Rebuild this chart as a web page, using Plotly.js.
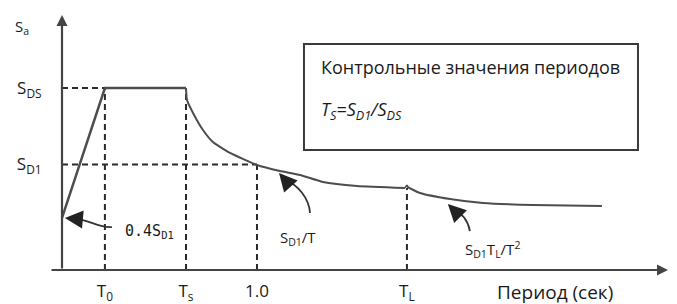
<!DOCTYPE html>
<html>
<head>
<meta charset="utf-8">
<script src="https://cdn.plot.ly/plotly-3.0.1.min.js"></script>
<style>
  html, body { margin: 0; padding: 0; background: #fff; }
  #chart { width: 677px; height: 304px; }
</style>
</head>
<body>
<div id="chart"></div>
<script>
// ---- Data (period T in s, spectral acceleration in units of S_DS) ----
const T0 = 0.22, Ts = 0.636, T1 = 1.0, TL = 1.769;
const SDS = 1.0, SD1 = 0.58, STL = 0.451;

const rampT = [0, T0, Ts];
const rampS = [0.286, SDS, SDS];

const curve1T = [0.636, 0.641, 0.672, 0.723, 0.774, 0.862, 1.0, 1.118, 1.221, 1.338, 1.513, 1.759];
const curve1S = [1.0, 0.934, 0.863, 0.769, 0.703, 0.643, 0.577, 0.544, 0.522, 0.484, 0.462, 0.451];

const cuspT = [1.759, 1.769];
const cuspS = [0.451, 0.467];

const curve2T = [1.769, 1.774, 1.836, 1.990, 2.159, 2.415, 2.769];
const curve2S = [0.467, 0.456, 0.423, 0.390, 0.368, 0.357, 0.352];

const xTickVals = [T0, Ts, T1, TL];
const xTickText = ['T<sub>0</sub>', 'T<sub>s</sub>', '1.0', 'T<sub>L</sub>'];
const yTickVals = [SD1, SDS];
const yTickText = ['S<sub>D1</sub>', 'S<sub>DS</sub>'];

// curved pointer arrows: [tail, ctrl1, ctrl2, base, tip]
const arrow1T = [0.256, 0.185, 0.144, 0.077, 0.015];
const arrow1S = [0.236, 0.231, 0.275, 0.280, 0.286];
const arrow2T = [1.272, 1.267, 1.210, 1.144, 1.113];
const arrow2S = [0.313, 0.396, 0.467, 0.495, 0.533];
const arrow3T = [2.092, 2.082, 2.051, 2.005, 1.979];
const arrow3S = [0.214, 0.275, 0.313, 0.335, 0.363];

const XMAX = 3.108, YMAX = 1.401, XMIN_AXIS = -0.0615;

// ---- Styles ----
const curveColor = '#4d4d4d';
const dashColor = '#2a2a2a';
const axisColor = '#444';
const textColor = '#1a1a1a';
const fontMain = '"Open Sans", Lato, sans-serif';

const traces = [
  {x: rampT, y: rampS, mode: 'lines', line: {color: curveColor, width: 2.5}, hoverinfo: 'skip'},
  {x: curve1T, y: curve1S, mode: 'lines', line: {color: curveColor, width: 2, shape: 'spline', smoothing: 0.5}, hoverinfo: 'skip'},
  {x: cuspT, y: cuspS, mode: 'lines', line: {color: curveColor, width: 1.5}, hoverinfo: 'skip'},
  {x: curve2T, y: curve2S, mode: 'lines', line: {color: curveColor, width: 2, shape: 'spline', smoothing: 0.5}, hoverinfo: 'skip'}
];

function dashLine(x0, y0, x1, y1) {
  return {type: 'line', xref: 'x', yref: 'y', x0, y0, x1, y1,
          line: {color: dashColor, width: 2, dash: '6px,4px'}, layer: 'below'};
}
function curvePath(tA, sA) {
  return {type: 'path', xref: 'x', yref: 'y',
          path: `M ${tA[0]},${sA[0]} C ${tA[1]},${sA[1]} ${tA[2]},${sA[2]} ${tA[3]},${sA[3]}`,
          line: {color: '#333', width: 1.8}};
}
function arrowHead(tA, sA) {
  return {x: tA[4], y: sA[4], ax: tA[3], ay: sA[3], axref: 'x', ayref: 'y', xref: 'x', yref: 'y',
          text: '', showarrow: true, arrowhead: 2, arrowsize: 2, arrowwidth: 1.8, arrowcolor: '#222', standoff: 0, startstandoff: 0};
}

const shapes = [
  dashLine(0, SDS, T0, SDS),
  dashLine(T0, 0, T0, SDS),
  dashLine(Ts, 0, Ts, SDS),
  dashLine(0, SD1, T1, SD1),
  dashLine(T1, 0, T1, SD1),
  dashLine(TL, 0, TL, STL),
  curvePath(arrow1T, arrow1S),
  curvePath(arrow2T, arrow2S),
  curvePath(arrow3T, arrow3S),
  {type: 'rect', xref: 'x', yref: 'y', x0: 1.241, x1: 2.954, y0: 0.659, y1: 1.242,
   line: {color: '#3a3a3a', width: 2}, fillcolor: 'rgba(0,0,0,0)'}
];

const annotations = [
  // axes with arrows
  {x: XMAX, y: 0, ax: XMIN_AXIS, ay: 0, axref: 'x', ayref: 'y', xref: 'x', yref: 'y', text: '',
   showarrow: true, arrowhead: 2, arrowsize: 1, arrowwidth: 2.2, arrowcolor: axisColor, standoff: 0},
  {x: 0, y: YMAX, ax: 0, ay: 0, axref: 'x', ayref: 'y', xref: 'x', yref: 'y', text: '',
   showarrow: true, arrowhead: 2, arrowsize: 1, arrowwidth: 2.2, arrowcolor: axisColor, standoff: 0},
  arrowHead(arrow1T, arrow1S),
  arrowHead(arrow2T, arrow2S),
  arrowHead(arrow3T, arrow3S),
  {x: -0.066, y: 0.953, xref: 'paper', yref: 'paper', xanchor: 'center', yanchor: 'middle',
   text: 'S<sub>a</sub>', showarrow: false,
   font: {family: fontMain, size: 15, color: textColor}},
  {x: 0.313, y: 0.214, xref: 'x', yref: 'y', xanchor: 'left', yanchor: 'middle', text: '0.4S<sub>D1</sub>', showarrow: false,
   font: {family: '"DejaVu Sans Mono", monospace', size: 15, color: textColor}},
  {x: 1.108, y: 0.176, xref: 'x', yref: 'y', xanchor: 'left', yanchor: 'middle', text: 'S<sub>D1</sub>/T', showarrow: false,
   font: {family: fontMain, size: 15, color: textColor}},
  {x: 2.056, y: 0.115, xref: 'x', yref: 'y', xanchor: 'left', yanchor: 'middle', text: 'S<sub>D1</sub>T<sub>L</sub>/T<sup>2</sup>', showarrow: false,
   font: {family: fontMain, size: 15, color: textColor}},
  {x: 0.813, y: -0.086, xref: 'paper', yref: 'paper', xanchor: 'center', yanchor: 'middle',
   text: 'Период (сек)', showarrow: false,
   font: {family: fontMain, size: 19, color: textColor}},
  {x: 1.318, y: 1.115, xref: 'x', yref: 'y', xanchor: 'left', yanchor: 'middle', text: 'Контрольные значения периодов', showarrow: false,
   font: {family: fontMain, size: 18, color: textColor}},
  {x: 1.318, y: 0.879, xref: 'x', yref: 'y', xanchor: 'left', yanchor: 'middle', text: '<i>T<sub>S</sub>=S<sub>D1</sub>/S<sub>DS</sub></i>', showarrow: false,
   font: {family: fontMain, size: 18, color: textColor}}
];

const layout = {
  width: 677, height: 304,
  margin: {l: 62, r: 9, t: 15, b: 34, pad: 0},
  paper_bgcolor: '#fff', plot_bgcolor: '#fff',
  showlegend: false,
  xaxis: {range: [0, XMAX], showgrid: false, zeroline: false, showline: false,
          tickmode: 'array', tickvals: xTickVals, ticktext: xTickText,
          ticks: 'outside', ticklen: 6, tickcolor: 'rgba(0,0,0,0)',
          tickfont: {family: fontMain, size: 17, color: textColor}, fixedrange: true},
  yaxis: {range: [0, YMAX], showgrid: false, zeroline: false, showline: false,
          tickmode: 'array', tickvals: yTickVals, ticktext: yTickText,
          ticks: 'outside', ticklen: 16, tickcolor: 'rgba(0,0,0,0)',
          tickfont: {family: fontMain, size: 17, color: textColor}, fixedrange: true},
  shapes, annotations
};

Plotly.newPlot('chart', traces, layout, {staticPlot: true, displayModeBar: false});
</script>
</body>
</html>
